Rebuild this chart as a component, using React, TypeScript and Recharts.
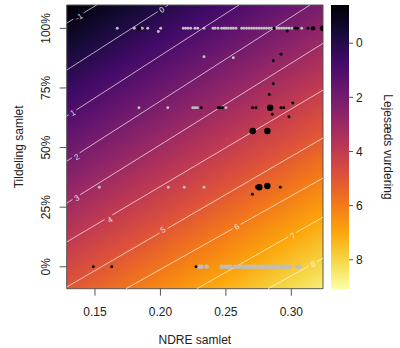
import {
  ComposedChart,
  Scatter,
  XAxis,
  YAxis,
  ZAxis,
  CartesianGrid,
  ReferenceLine,
  ReferenceArea,
  Label,
} from "recharts";

const FONT = "'Liberation Sans', Arial, sans-serif";
const TEXT = "#222";
const FRAME = "#555";

const X_DOMAIN: [number, number] = [0.1284, 0.3242];
const Y_DOMAIN: [number, number] = [-9.2, 109.8];
const xTicks = [0.15, 0.2, 0.25, 0.3];
const yTicks = [0, 25, 50, 75, 100];
const colorTicks = [0, 2, 4, 6, 8];
const colorRange: [number, number] = [-1.41, 9.08];

// predicted score at the plot corners: top-left, top-right, bottom-left
const surfaceCorners = [-1.44, 2.15, 5.02];

const inferno = [
  "#000004", "#160b39", "#420a68", "#6a176e", "#932667", "#bc3754",
  "#dd513a", "#f37819", "#fca50a", "#f6d746", "#fcffa4",
];

// contour lines (start / end) and where their labels sit
const contourLevels = [-1, 0, 1, 2, 3, 4, 5, 6, 7, 8];
const contourFrom = [
  [0.1284, 102.2], [0.1284, 82.5], [0.1284, 63.2], [0.1284, 44.3], [0.1284, 26.7],
  [0.1284, 10.4], [0.1284, -8.5], [0.1737, -9.2], [0.2279, -9.2], [0.2822, -9.2],
];
const contourTo = [
  [0.1513, 109.8], [0.2058, 109.8], [0.26, 109.8], [0.3143, 109.8], [0.3242, 93.7],
  [0.3242, 74.1], [0.3242, 54.0], [0.3242, 37.2], [0.3242, 20.8], [0.3242, 3.6],
];
const contourLabelAt = [
  [0.1378, 104.7], [0.2012, 107.7], [0.1332, 64.5], [0.1362, 46.0], [0.1362, 28.8],
  [0.1615, 19.6], [0.202, 15.4], [0.2585, 16.7], [0.3013, 12.9], [0.3166, 1.1],
];

// observations: grey rows by tildeling level
const tildelingRows = [100, 66.67, 33.33, 0];
const greyRow100 = [
  0.167, 0.18, 0.1861, 0.1903, 0.2002, 0.2175, 0.2192, 0.2211, 0.2231, 0.2264,
  0.2285, 0.2333, 0.2402, 0.2417, 0.244, 0.2468, 0.2486, 0.2501, 0.2519, 0.2539,
  0.2557, 0.2577, 0.2621, 0.2639, 0.2658, 0.2677, 0.2696, 0.2715, 0.2734, 0.2753,
  0.2772, 0.2791, 0.281, 0.283, 0.2849, 0.2888, 0.2906, 0.2925, 0.2944, 0.2963,
  0.2982, 0.3005, 0.3079,
];
const greyRow67 = [0.1836, 0.2056, 0.2247, 0.2264, 0.2282, 0.2501];
const greyRow33 = [0.1533, 0.206, 0.2182, 0.2333];
const greyRow0 = [
  0.2297, 0.2315, 0.2353, 0.2468, 0.2489, 0.2514, 0.2536, 0.2574, 0.2597, 0.2621,
  0.2648, 0.2669, 0.2697, 0.2716, 0.2745, 0.2763, 0.2789, 0.2812, 0.2831, 0.2858,
  0.2877, 0.2904, 0.2922, 0.2951, 0.2968, 0.299, 0.3046, 0.3061,
];
const greyOther = [
  [0.1984, 98.7], [0.2333, 88.1], [0.2557, 87.7],
];
// black points: ndre, tildeling, count
const blackPoints = [
  [0.1836, 100, 2], [0.2868, 100, 1], [0.2969, 98.9, 1], [0.3028, 100, 1],
  [0.3046, 100, 1], [0.3128, 100, 1], [0.3166, 100, 2], [0.324, 100, 3],
  [0.2921, 89.1, 1], [0.2862, 86.4, 1], [0.2862, 76.8, 1], [0.2832, 72.3, 1],
  [0.2312, 66.67, 1], [0.2442, 66.67, 1], [0.2455, 66.67, 1], [0.2473, 66.67, 1],
  [0.2705, 66.67, 1], [0.273, 66.67, 1], [0.2838, 66.67, 4], [0.2921, 66.67, 1],
  [0.2942, 66.67, 1], [0.3011, 68.7, 1], [0.2855, 64.0, 1], [0.2982, 62.9, 1],
  [0.2705, 56.9, 4], [0.2817, 56.9, 4],
  [0.274, 33.5, 2], [0.2755, 33.33, 4], [0.2817, 33.9, 4], [0.2916, 33.33, 1],
  [0.2702, 30.4, 1],
  [0.1487, 0, 1], [0.1628, 0, 1], [0.2272, 0, 1],
];

const greyData = [
  ...greyRow100.map((x) => ({ x, y: tildelingRows[0], n: 1 })),
  ...greyRow67.map((x) => ({ x, y: tildelingRows[1], n: 1 })),
  ...greyRow33.map((x) => ({ x, y: tildelingRows[2], n: 1 })),
  ...greyOther.map(([x, y]) => ({ x, y, n: 1 })),
  ...greyRow0.map((x) => ({ x, y: tildelingRows[3], n: 2 })),
];
const blackData = blackPoints.map(([x, y, n]) => ({ x, y, n }));
const labelData = contourLevels.map((level, i) => ({
  x: contourLabelAt[i][0],
  y: contourLabelAt[i][1],
  level,
}));

const MARGIN = { top: 5, right: 77, left: 16.7, bottom: 19.3 };
const Y_AXIS_W = 50;
const X_AXIS_H = 40;
const plotW = 400 - MARGIN.left - MARGIN.right - Y_AXIS_W;
const plotH = 348 - MARGIN.top - MARGIN.bottom - X_AXIS_H;
const kx = plotW / (X_DOMAIN[1] - X_DOMAIN[0]);
const ky = plotH / (Y_DOMAIN[1] - Y_DOMAIN[0]);

// each contour is cut where its label sits, like R's contour()
const contourPieces = contourLevels.flatMap((level, i) => {
  const [x0, y0] = contourFrom[i];
  const [x1, y1] = contourTo[i];
  const [lx, ly] = contourLabelAt[i];
  const dx = (x1 - x0) * kx;
  const dy = (y1 - y0) * ky;
  const len2 = dx * dx + dy * dy;
  const t = ((lx - x0) * kx * dx + (ly - y0) * ky * dy) / len2;
  const gap = (String(level).length > 1 ? 6 : 4.5) / Math.sqrt(len2);
  const at = (s: number) => ({ x: x0 + (x1 - x0) * s, y: y0 + (y1 - y0) * s });
  const pieces = [];
  if (t - gap > 0) pieces.push({ key: `${level}a`, seg: [at(0), at(t - gap)] });
  if (t + gap < 1) pieces.push({ key: `${level}b`, seg: [at(t + gap), at(1)] });
  return pieces;
});

// direction of the heat gradient inside the plot box
const [tl, tr, bl] = surfaceCorners;
const gA = tr - tl;
const gB = bl - tl;
const gL = gA * gA + gB * gB;
const g0 = (colorRange[0] - tl) / gL;
const g1 = (colorRange[1] - tl) / gL;

const stops = inferno.map((c, i) => (
  <stop key={i} offset={i / (inferno.length - 1)} stopColor={c} />
));

const xTick = ({ x, y, payload }: any) => (
  <text x={x} y={y + 18.3} textAnchor="middle" fontSize={12} fontFamily={FONT} fill={TEXT}>
    {payload.value.toFixed(2)}
  </text>
);

const yTick = ({ x, y, payload }: any) => (
  <text
    x={x - 7.2}
    y={y}
    transform={`rotate(-90, ${x - 7.2}, ${y})`}
    textAnchor="middle"
    fontSize={12}
    fontFamily={FONT}
    fill={TEXT}
  >
    {payload.value}%
  </text>
);

const contourText = ({ cx, cy, payload }: any) => (
  <text
    x={cx}
    y={cy}
    transform={`rotate(-31, ${cx}, ${cy})`}
    textAnchor="middle"
    dominantBaseline="central"
    fontSize={8}
    fontFamily={FONT}
    fill="rgba(255,255,255,0.85)"
  >
    {payload.level}
  </text>
);

const App = () => {
  return (
    <div style={{ position: "absolute", left: 0, top: 0, width: 400, height: 348 }}>
      <div style={{ position: "absolute", left: 0, top: 0 }}>
        <ComposedChart width={400} height={348} margin={MARGIN}>
          <defs>
            <linearGradient
              id="heat"
              gradientUnits="objectBoundingBox"
              x1={gA * g0}
              y1={gB * g0}
              x2={gA * g1}
              y2={gB * g1}
            >
              {stops}
            </linearGradient>
          </defs>
          <CartesianGrid fill="url(#heat)" horizontal={false} vertical={false} />
          <XAxis
            dataKey="x"
            type="number"
            domain={X_DOMAIN}
            allowDataOverflow
            ticks={xTicks}
            tick={xTick}
            tickSize={7}
            tickMargin={2}
            height={X_AXIS_H}
            axisLine={false}
            tickLine={{ stroke: FRAME }}
          >
            <Label
              content={({ viewBox }: any) => (
                <text
                  x={viewBox.x + viewBox.width / 2}
                  y={viewBox.y + 55.3}
                  textAnchor="middle"
                  fontSize={12}
                  fontFamily={FONT}
                  fill={TEXT}
                >
                  NDRE samlet
                </text>
              )}
            />
          </XAxis>
          <YAxis
            dataKey="y"
            type="number"
            domain={Y_DOMAIN}
            allowDataOverflow
            ticks={yTicks}
            tick={yTick}
            tickSize={7}
            tickMargin={2}
            width={Y_AXIS_W}
            axisLine={false}
            tickLine={{ stroke: FRAME }}
          >
            <Label
              content={({ viewBox }: any) => {
                const bx = viewBox.x + 6.3;
                const by = viewBox.y + viewBox.height / 2;
                return (
                  <text
                    x={bx}
                    y={by}
                    transform={`rotate(-90, ${bx}, ${by})`}
                    textAnchor="middle"
                    fontSize={12}
                    fontFamily={FONT}
                    fill={TEXT}
                  >
                    Tildeling samlet
                  </text>
                );
              }}
            />
          </YAxis>
          <ZAxis dataKey="n" type="number" domain={[1, 4]} range={[7, 33]} />
          {contourPieces.map((p) => (
            <ReferenceLine
              key={p.key}
              segment={p.seg}
              stroke="rgba(255,255,255,0.65)"
              strokeWidth={1}
              ifOverflow="visible"
            />
          ))}
          <Scatter data={labelData} shape={contourText} isAnimationActive={false} />
          <Scatter data={greyData} fill="#bebebe" isAnimationActive={false} />
          <Scatter data={blackData} fill="#000000" isAnimationActive={false} />
          <ReferenceArea
            x1={X_DOMAIN[0]}
            x2={X_DOMAIN[1]}
            y1={Y_DOMAIN[0]}
            y2={Y_DOMAIN[1]}
            fill="none"
            fillOpacity={0}
            stroke={FRAME}
            strokeWidth={1}
          />
        </ComposedChart>
      </div>
      <div style={{ position: "absolute", left: 0, top: 0 }}>
        <ComposedChart
          width={400}
          height={348}
          data={[]}
          margin={{ top: 5, right: 0, left: 331, bottom: 59 }}
        >
          <defs>
            <linearGradient id="cbar" x1={0} y1={0} x2={0} y2={1}>
              {stops}
            </linearGradient>
          </defs>
          <CartesianGrid fill="url(#cbar)" horizontal={false} vertical={false} />
          <XAxis type="number" domain={[0, 1]} hide height={0} />
          <YAxis
            type="number"
            orientation="right"
            reversed
            domain={colorRange}
            allowDataOverflow
            ticks={colorTicks}
            width={51}
            tickSize={4}
            tickMargin={3}
            axisLine={false}
            tickLine={{ stroke: FRAME }}
            tick={{ fontSize: 12, fontFamily: FONT, fill: TEXT }}
          >
            <Label
              content={({ viewBox }: any) => {
                const bx = viewBox.x + 34.5;
                const by = viewBox.y + viewBox.height / 2;
                return (
                  <text
                    x={bx}
                    y={by}
                    transform={`rotate(90, ${bx}, ${by})`}
                    textAnchor="middle"
                    fontSize={12}
                    fontFamily={FONT}
                    fill={TEXT}
                  >
                    Lejesæds vurdering
                  </text>
                );
              }}
            />
          </YAxis>
          <ReferenceArea
            x1={0}
            x2={1}
            y1={colorRange[0]}
            y2={colorRange[1]}
            fill="none"
            fillOpacity={0}
            stroke={FRAME}
            strokeWidth={1}
          />
        </ComposedChart>
      </div>
    </div>
  );
};

export default App;
